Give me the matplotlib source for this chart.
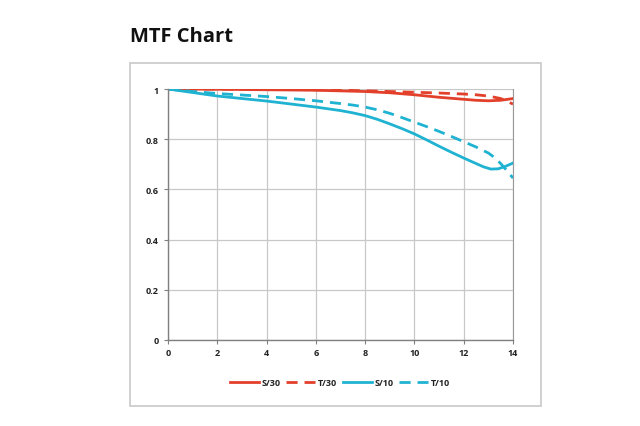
import matplotlib
matplotlib.use("Agg")
import matplotlib.pyplot as plt
from matplotlib.patches import Rectangle
from matplotlib.lines import Line2D

plt.rcParams['font.family'] = ['Open Sans', 'DejaVu Sans']

x_s10 = [0, 1, 2, 3, 4, 5, 6, 7, 7.5, 8, 8.5, 9, 9.5, 10, 10.5, 11, 11.5, 12, 12.5, 12.8, 13.1, 13.4, 13.7, 14]
s10 = [1.0, 0.986, 0.972, 0.962, 0.952, 0.94, 0.928, 0.914, 0.905, 0.894, 0.879, 0.861, 0.842, 0.821, 0.797, 0.772, 0.748, 0.725, 0.703, 0.690, 0.681, 0.682, 0.692, 0.705]
x_t10 = [0, 1, 2, 3, 4, 5, 6, 7, 7.5, 8, 8.5, 9, 9.5, 10, 10.5, 11, 11.5, 12, 12.5, 13, 13.25, 13.5, 13.75, 14]
t10 = [1.0, 0.99, 0.982, 0.976, 0.97, 0.962, 0.953, 0.942, 0.936, 0.928, 0.917, 0.903, 0.886, 0.868, 0.850, 0.831, 0.811, 0.790, 0.769, 0.745, 0.727, 0.703, 0.675, 0.645]
x_s30 = [0, 2, 4, 6, 8, 9, 10, 11, 12, 12.5, 13, 13.5, 14]
s30 = [1.0, 0.999, 0.997, 0.995, 0.99, 0.985, 0.977, 0.967, 0.959, 0.955, 0.953, 0.955, 0.962]
x_t30 = [0, 4, 6, 8, 10, 11, 12, 12.5, 13, 13.5, 14]
t30 = [1.0, 0.999, 0.997, 0.993, 0.987, 0.984, 0.980, 0.977, 0.972, 0.962, 0.940]

xticks = [0, 2, 4, 6, 8, 10, 12, 14]
yticks = [0, 0.2, 0.4, 0.6, 0.8, 1]
ytick_labels = ['0', '0.2', '0.4', '0.6', '0.8', '1']

red = '#e2402b'
cyan = '#1fb3d1'

fig = plt.figure(figsize=(6.4, 4.27), dpi=100)
fig.patch.set_facecolor('white')

# chart frame
fig.patches.append(Rectangle((130/640, 1-407/427), (541-130)/640, (407-64)/427,
                             transform=fig.transFigure, fill=False,
                             edgecolor='#c8c8c8', linewidth=1.2))

fig.text(130/640, 1-37/427, 'MTF Chart', fontsize=14.5, fontweight='bold',
         va='center', ha='left', color='#111111')

ax = fig.add_axes([168/640, 1-341/427, (513-168)/640, (341-90)/427])
lw = 2.0
dash = (4, 2.5)
ax.plot(x_s30, s30, color=red, lw=lw, label='S/30', solid_joinstyle='round')
ax.plot(x_t30, t30, color=red, lw=lw, dashes=dash, label='T/30')
ax.plot(x_s10, s10, color=cyan, lw=lw, label='S/10', solid_joinstyle='round')
ax.plot(x_t10, t10, color=cyan, lw=lw, dashes=dash, label='T/10')

ax.set_xlim(0, 14)
ax.set_ylim(0, 1)
ax.set_xticks(xticks)
ax.set_xticklabels([str(v) for v in xticks])
ax.set_yticks(yticks)
ax.set_yticklabels(ytick_labels)
ax.grid(True, color='#c8c8c8', linewidth=0.9)
ax.set_axisbelow(True)
for s in ['left', 'bottom']:
    ax.spines[s].set_color('#808080')
    ax.spines[s].set_linewidth(1.0)
ax.spines['right'].set_color('#999999')
ax.spines['top'].set_visible(False)
ax.tick_params(axis='both', labelsize=6.5, length=3, color='#808080',
               labelcolor='#222222', direction='out', width=0.8)
ax.tick_params(axis='x', pad=3)
for t in ax.get_xticklabels() + ax.get_yticklabels():
    t.set_fontweight('bold')

handles = [Line2D([], [], color=red, lw=lw),
           Line2D([], [], color=red, lw=lw, dashes=dash),
           Line2D([], [], color=cyan, lw=lw),
           Line2D([], [], color=cyan, lw=lw, dashes=dash)]
leg = fig.legend(handles, ['S/30', 'T/30', 'S/10', 'T/10'], loc='center',
                 bbox_to_anchor=(340/640, 1-384/427), ncol=4, frameon=False,
                 fontsize=6.5, handlelength=3.2, handletextpad=0.3,
                 columnspacing=0.6)
for t in leg.get_texts():
    t.set_fontweight('bold')
    t.set_color('#222222')

fig.savefig('out.png', dpi=100, facecolor='white')
